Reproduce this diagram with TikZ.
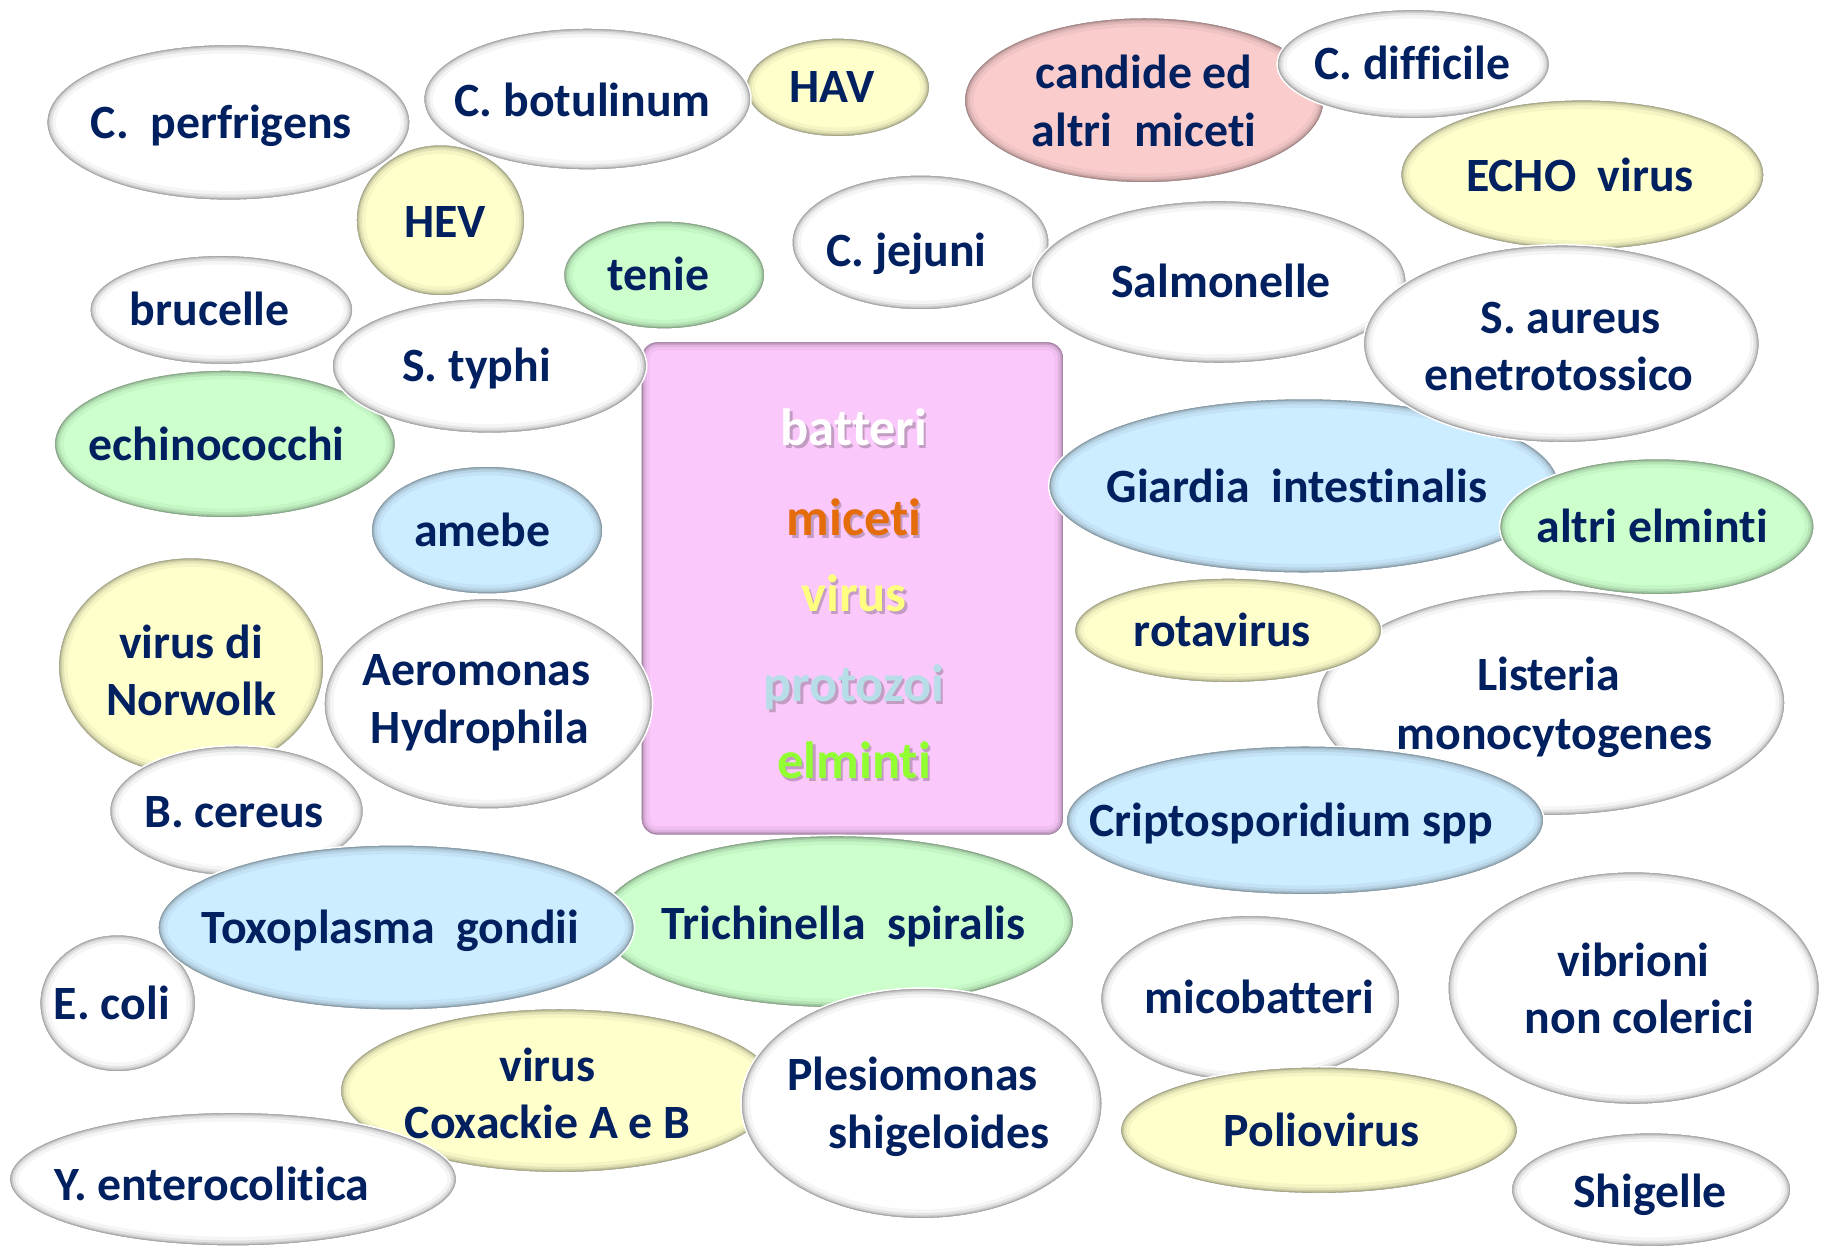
\documentclass[tikz,border=0pt]{standalone}
\usepackage{fontspec}
\setmainfont{Carlito}[Ligatures=CommonOff]
\usetikzlibrary{shapes.geometric,calc}
\definecolor{navy}{RGB}{0,32,96}
\definecolor{wfill}{RGB}{255,255,255}
\definecolor{yfill}{RGB}{255,255,204}
\definecolor{gfill}{RGB}{204,255,204}
\definecolor{bfill}{RGB}{204,236,255}
\definecolor{pfill}{RGB}{250,204,204}
\definecolor{boxfill}{RGB}{251,200,251}
\definecolor{micol}{RGB}{228,108,10}
\definecolor{vicol}{RGB}{255,255,128}
\definecolor{prcol}{RGB}{183,221,232}
\definecolor{elcol}{RGB}{146,255,50}
\tikzset{
  bubble/.style={ellipse, inner sep=0pt, outer sep=0pt, draw=white, line width=1.3pt,
    path picture={
      \foreach \w/\o in {16/0.04,10/0.07,6/0.1,3.5/0.15,1.6/0.25}{
        \draw[black, draw opacity=\o, line width=\w pt]
          let \p1=(path picture bounding box.north east),
              \p2=(path picture bounding box.center) in
          (\p2) ellipse [x radius={\x1-\x2}, y radius={\y1-\y2}];
      }
    }},
  cbox/.style={rectangle, rounded corners=14pt, inner sep=0pt, outer sep=0pt, draw=white,
    line width=1.3pt, fill=boxfill,
    path picture={
      \foreach \w/\o in {16/0.04,10/0.07,6/0.1,3.5/0.15,1.6/0.25}{
        \draw[black, draw opacity=\o, line width=\w pt, rounded corners=14pt]
          (path picture bounding box.south west) rectangle (path picture bounding box.north east);
      }
    }},
  lbl/.style={font=\fontsize{41}{50}\selectfont\bfseries, text=navy, inner sep=0pt, anchor=base},
  ctext/.style={font=\fontsize{45}{50}\selectfont\bfseries, inner sep=0pt, anchor=base},
}
\newcommand{\mybub}[6]{\node[bubble, fill=#6, minimum width=#4pt, minimum height=#5pt] (#1) at (#2,#3) {};}
\newcommand{\mylab}[4]{\node[lbl] (#1) at (#2,#3) {#4};}
\newcommand{\myctext}[5]{%
  \node[ctext, text=black, opacity=0.22] (#1-s) at (#2+2,#3+2.5) {#5};
  \node[ctext, text=#4] (#1) at (#2,#3) {#5};}
\begin{document}
\begin{tikzpicture}[x=1pt,y=-1pt]
\fill[white] (0,0) rectangle (1568,1074);
\useasboundingbox (0,0) rectangle (1568,1074);

% central box
\node[cbox, minimum width=363pt, minimum height=424pt] (centre) at (731.5,505) {};
\myctext{batteri}{733}{382}{white}{batteri}
\myctext{miceti}{733}{460}{micol}{miceti}
\myctext{virus}{733}{525}{vicol}{virus}
\myctext{protozoi}{733}{602}{prcol}{protozoi}
\myctext{elminti}{733}{668}{elcol}{elminti}

% top row
\mybub{cand}{982}{86}{309}{142}{pfill}
\mylab{cand-a}{982}{76}{candide ed}
\mylab{cand-b}{982}{126}{altri~ miceti}
\mybub{diff}{1213}{55}{234}{94}{wfill}
\mylab{diff-t}{1212}{68}{C. difficile}
\mybub{hav}{719}{75}{158}{85}{yfill}
\mylab{hav-t}{714}{88}{HAV}
\mybub{perf}{196}{105}{312}{134}{wfill}
\mylab{perf-t}{190}{119}{C.~ perfrigens}
\mybub{botu}{504}{85}{281}{122}{wfill}
\mylab{botu-t}{500}{100}{C. botulinum}
\mybub{hev}{378}{189}{145}{130}{yfill}
\mylab{hev-t}{382}{204}{HEV}

% upper right
\mybub{echo}{1358}{150}{312}{129}{yfill}
\mylab{echo-t}{1356}{164}{ECHO~ virus}
\mybub{jej}{790}{208}{221}{116}{wfill}
\mylab{jej-t}{778}{229}{C. jejuni}
\mybub{salm}{1046}{242}{322}{140}{wfill}
\mylab{salm-t}{1048}{255}{Salmonelle}
\mybub{giard}{1119}{417}{438}{150}{bfill}
\mylab{giard-t}{1113}{431}{Giardia~ intestinalis}
\mybub{saur}{1340}{295}{340}{170}{wfill}
\mylab{saur-a}{1348}{286}{S. aureus}
\mylab{saur-b}{1338}{335}{enetrotossico}
\mybub{aelm}{1422}{452}{270}{117}{gfill}
\mylab{aelm-t}{1418}{466}{altri elminti}

% upper left
\mybub{bruc}{190}{266}{226}{94}{wfill}
\mylab{bruc-t}{180}{279}{brucelle}
\mybub{echi}{193}{381}{293}{127}{gfill}
\mylab{echi-t}{186}{395}{echinococchi}
\mybub{tenie}{570}{236}{173}{93}{gfill}
\mylab{tenie-t}{565}{249}{tenie}
\mybub{styp}{420}{314}{270}{116}{wfill}
\mylab{styp-t}{409}{327}{S. typhi}
\mybub{ameb}{418}{455}{199}{110}{bfill}
\mylab{ameb-t}{414}{469}{amebe}

% left middle
\mybub{norw}{164}{572}{228}{187}{yfill}
\mylab{norw-a}{164}{565}{virus di}
\mylab{norw-b}{164}{614}{Norwolk}
\mybub{aero}{419}{604}{282}{181}{wfill}
\mylab{aero-a}{409}{588}{Aeromonas}
\mylab{aero-b}{412}{638}{Hydrophila}
\mybub{bcer}{203}{696}{218}{112}{wfill}
\mylab{bcer-t}{201}{710}{B. cereus}
\mybub{ecoli}{101}{861}{134}{118}{wfill}
\mylab{ecoli-t}{96}{875}{E. coli}

% right middle
\mybub{list}{1331}{603}{402}{194}{wfill}
\mylab{list-a}{1329}{593}{Listeria}
\mylab{list-b}{1334}{643}{monocytogenes}
\mybub{rota}{1054}{541}{264}{90}{yfill}
\mylab{rota-t}{1049}{555}{rotavirus}
\mybub{cript}{1120}{704}{410}{128}{bfill}
\mylab{cript-t}{1108}{718}{Criptosporidium spp}

% lower band
\mybub{trich}{718}{791}{407}{148}{gfill}
\mylab{trich-t}{724}{806}{Trichinella~ spiralis}
\mybub{toxo}{340}{796}{409}{142}{bfill}
\mylab{toxo-t}{335}{810}{Toxoplasma~ gondii}
\mybub{coxv}{480}{936}{376}{141}{yfill}
\mylab{coxv-a}{470}{928}{virus}
\mylab{coxv-b}{470}{977}{Coxackie A e B}
\mybub{ples}{791}{947}{310}{198}{wfill}
\mylab{ples-a}{783}{936}{Plesiomonas}
\mylab{ples-b}{806}{986}{shigeloides}
\mybub{yent}{200}{1012}{384}{115}{wfill}
\mylab{yent-t}{182}{1030}{Y. enterocolitica}

% lower right
\mybub{mico}{1073}{857}{257}{143}{wfill}
\mylab{mico-t}{1081}{870}{micobatteri}
\mybub{polio}{1132}{970}{341}{109}{yfill}
\mylab{polio-t}{1134}{984}{Poliovirus}
\mybub{vibr}{1402}{848}{319}{200}{wfill}
\mylab{vibr-a}{1402}{838}{vibrioni}
\mylab{vibr-b}{1407}{887}{non colerici}
\mybub{shig}{1417}{1021}{240}{98}{wfill}
\mylab{shig-t}{1416}{1036}{Shigelle}
\end{tikzpicture}
\end{document}
